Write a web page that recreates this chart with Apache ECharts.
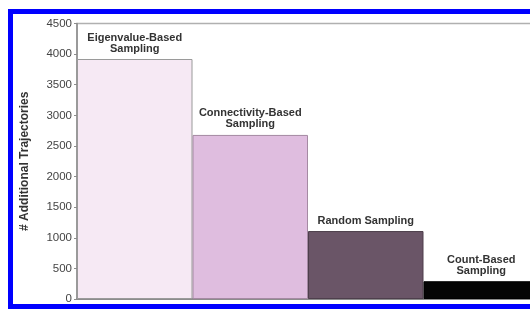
<!DOCTYPE html>
<html>
<head>
<meta charset="utf-8">
<script src="https://cdn.jsdelivr.net/npm/echarts@6/dist/echarts.min.js"></script>
<style>
  html, body { margin: 0; padding: 0; background: #fff; }
  #chart { width: 530px; height: 309px; }
</style>
</head>
<body>
<div id="chart"></div>
<script>
// data
const categories = ['Eigenvalue-Based\nSampling', 'Connectivity-Based\nSampling', 'Random Sampling', 'Count-Based\nSampling'];
const trajectories = [3920, 2680, 1110, 290];
const barColors = ['#f6e9f4', '#dfbddf', '#6a5567', '#050505'];
const barBorders = ['#9a9a9a', '#a58aa3', '#4e3f4c', '#000000'];
const yTicks = { min: 0, max: 4500, interval: 500 };

const chart = echarts.init(document.getElementById('chart'));

chart.setOption({
  animation: false,
  grid: {
    left: 77,
    top: 23.5,
    bottom: 10,
    width: 462,
    outerBoundsMode: 'none',
    show: true,
    borderColor: '#b0b0b0',
    borderWidth: 1.5
  },
  xAxis: {
    type: 'category',
    data: categories,
    axisLine: { lineStyle: { color: '#8c8c8c', width: 2 } },
    axisTick: { show: false },
    axisLabel: { show: false }
  },
  yAxis: {
    type: 'value',
    min: yTicks.min,
    max: yTicks.max,
    interval: yTicks.interval,
    name: '# Additional Trajectories',
    nameLocation: 'middle',
    nameGap: 46,
    nameTextStyle: {
      fontFamily: 'Liberation Sans, Arial, sans-serif',
      fontWeight: 'bold',
      fontSize: 12,
      color: '#333'
    },
    axisLine: { show: true, lineStyle: { color: '#8c8c8c', width: 1.5 } },
    axisTick: { show: true, length: 3, lineStyle: { color: '#8c8c8c' } },
    splitLine: { show: false },
    axisLabel: {
      margin: 5,
      formatter: v => String(v),
      fontFamily: 'Liberation Sans, Arial, sans-serif',
      fontSize: 11.5,
      color: '#444'
    }
  },
  series: [{
    type: 'bar',
    barWidth: '100%',
    data: trajectories.map((v, i) => ({
      value: v,
      itemStyle: { color: barColors[i], borderColor: barBorders[i], borderWidth: 1 }
    })),
    label: {
      show: true,
      position: 'top',
      distance: 5,
      formatter: p => p.name,
      fontFamily: 'Liberation Sans, Arial, sans-serif',
      fontWeight: 'bold',
      fontSize: 11,
      lineHeight: 11,
      color: '#333'
    }
  }],
  graphic: [{
    type: 'polyline',
    silent: true,
    shape: { points: [[540, 11.5], [10.5, 11.5], [10.5, 306.5], [540, 306.5]] },
    style: { fill: 'none', stroke: '#0000ff', lineWidth: 5 }
  }]
});
</script>
</body>
</html>
